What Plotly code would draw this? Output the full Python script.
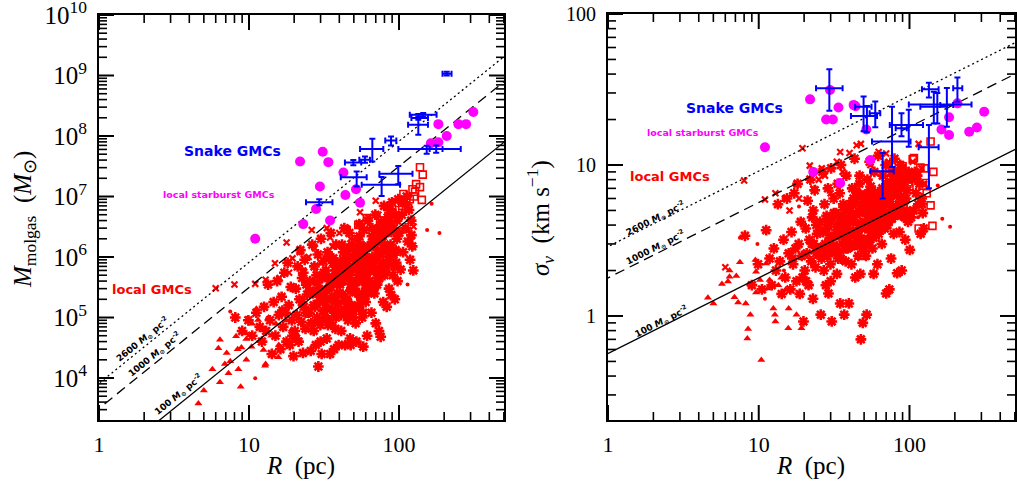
import numpy as np
import plotly.graph_objects as go

# ---------------- data ----------------
# local GMCs: asterisk symbols (R in pc, M_molgas in Msun, sigma_v in km/s)
star_R = [8.1, 9.0, 9.9, 10.5, 11.2, 11.8,
          12.2, 12.6, 13.0, 13.4, 13.8, 14.2, 14.6, 15.0, 15.4, 15.8,
          16.2, 16.5, 16.7, 16.9, 17.2, 17.5, 17.8, 18.1, 18.4, 18.7, 19.0, 19.3, 19.5, 19.8,
          20.2, 20.5, 20.8, 21.1, 21.4, 21.7, 22.0, 22.3, 22.6, 22.9, 23.2, 23.5, 23.8, 24.1, 24.4, 24.7, 20.6, 23.0,
          25.2, 25.5, 25.8, 26.1, 26.4, 26.7, 27.0, 27.3, 27.6, 27.9, 28.2, 28.5, 28.8, 29.0, 29.3, 29.6, 29.9, 30.2, 30.5, 30.8, 31.1, 31.4, 31.7, 30.0,
          32.2, 32.6, 33.0, 33.4, 33.8, 34.2, 34.7, 35.1, 35.5, 35.9, 36.4, 36.9, 37.3, 37.7, 38.1, 38.5, 38.9, 39.3, 39.6, 32.8, 33.6, 34.4, 35.3, 36.2, 37.0, 37.9, 38.7, 39.5,
          40.2, 40.7, 41.2, 41.7, 42.2, 42.7, 43.2, 43.7, 44.2, 44.7, 45.2, 45.7, 46.2, 46.7, 47.2, 47.6, 48.1, 48.6, 49.0, 49.5, 40.5, 41.5, 42.5, 43.5, 44.5, 45.5, 46.5, 47.5, 48.5, 49.8,
          50.3, 50.9, 51.4, 52.0, 52.6, 53.2, 53.8, 54.4, 55.0, 55.6, 56.2, 56.8, 57.4, 57.8, 58.5, 59.2, 59.9, 60.6, 61.3, 62.0, 50.6, 51.7, 52.9, 54.1, 55.3, 56.5, 57.7, 59.0, 60.3, 61.6,
          63.5, 64.5, 65.5, 66.5, 67.5, 68.5, 69.5, 70.5, 71.5, 72.5, 73.5, 74.5, 75.5, 76.5, 77.5, 78.5, 79.5, 64.0, 66.0, 68.0, 70.0, 72.0, 74.0, 76.0, 78.0, 80.0,
          80.8, 81.8, 82.8, 83.8, 84.8, 85.8, 86.8, 87.8, 88.8, 89.8, 90.8, 91.8, 92.8, 93.8, 94.8, 95.8, 96.8, 97.8, 98.8, 83.0, 87.0, 93.0,
          100.5, 102.5, 104.5, 106.5, 108.5, 110.5, 112.5, 114.5, 116.5, 118.5, 120.5, 122.5, 124.5, 121.0,
          22.5, 24.0, 25.5, 27.0, 28.5, 30.0, 31.5, 33.0, 34.5, 36.0, 37.5, 39.0, 40.5, 42.0, 43.5, 45.0, 46.5, 48.0, 49.5, 51.0,
          52.5, 54.0, 55.5, 57.0, 58.5, 60.0, 62.0, 64.0, 66.0, 68.0, 70.0, 72.0, 74.0, 76.0, 78.0, 80.0, 83.0, 86.0, 89.0, 92.0,
          26.0, 29.0, 32.0, 35.0, 38.0, 41.0, 44.0, 47.0, 50.0, 53.0, 56.0, 59.0, 62.5, 65.5, 69.0, 72.5, 76.5, 81.0, 85.0, 95.0,
          27.5, 33.5, 39.5, 45.5, 51.5, 57.5, 63.0, 67.0, 71.0, 75.0, 79.0, 84.0, 88.0, 97.0, 36.5, 42.5, 48.5, 54.5, 60.5, 66.5]
star_M = [1.0e5, 6.0e4, 9.0e4, 5.0e4, 1.2e5, 7.0e4,
          4.0e4, 1.5e5, 6.0e4, 3.5e5, 9.0e4, 2.5e4, 1.8e5, 5.0e4, 4.0e5, 1.1e5,
          3.0e4, 2.2e5, 1.3e5, 7.0e4, 5.5e5, 1.2e5, 4.0e4, 8.0e5, 1.6e5, 3.5e4, 3.2e5, 9.0e4, 5.0e4, 2.3e4,
          6.0e4, 3.0e5, 1.1e5, 7.0e5, 4.0e4, 2.0e5, 1.3e6, 8.5e4, 4.5e5, 2.6e4, 1.5e5, 9.0e5, 6.5e4, 3.5e5, 2.4e5, 1.2e5, 4.5e4, 5.5e5,
          1.2e5, 4.0e5, 2.8e4, 8.0e4, 1.6e6, 2.5e5, 6.0e4, 7.0e5, 1.5e5, 3.5e4, 5.0e5, 1.0e5, 1.1e6, 1.55e4, 3.0e5, 1.9e5, 7.5e4, 2.0e6, 2.5e4, 4.5e5, 1.3e5, 8.5e5, 2.2e5, 4.0e4,
          1.8e5, 6.0e5, 4.5e4, 1.2e6, 3.0e5, 9.0e4, 2.5e4, 2.5e6, 4.0e5, 1.4e5, 8.0e5, 3.0e4, 2.2e5, 6.5e4, 1.6e6, 3.5e5, 1.1e5, 5.0e5, 3.5e4, 2.8e5, 7.5e4, 1.0e6, 2.0e5, 4.5e5, 1.2e5, 7.0e5, 2.5e5, 1.7e5,
          2.5e5, 8.0e5, 6.0e4, 1.6e6, 4.0e5, 1.3e5, 3.0e6, 3.5e4, 6.0e5, 2.0e5, 1.1e6, 9.0e4, 4.5e5, 2.5e6, 4.5e4, 3.5e4, 3.0e5, 1.5e5, 4.0e4, 7.0e5, 3.5e5, 1.2e5, 9.0e5, 2.2e5, 5.0e5, 1.8e5, 1.4e6, 2.8e5, 6.5e5, 1.0e5,
          3.0e5, 1.0e6, 8.0e4, 4.0e4, 2.0e6, 5.0e5, 1.5e5, 3.5e6, 7.0e5, 2.2e5, 1.3e6, 1.0e5, 4.5e5, 3.3e4, 2.8e6, 6.0e5, 1.8e5, 9.0e5, 5.0e4, 4.0e6, 3.8e5, 1.4e5, 8.0e5, 2.5e5, 1.6e6, 4.0e5, 1.2e5, 1.1e6, 3.0e5, 6.5e5,
          4.0e5, 1.5e6, 1.2e5, 3.0e6, 7.0e5, 2.5e5, 5.0e6, 9.0e5, 3.5e5, 2.0e6, 6.0e4, 1.1e6, 4.8e4, 5.5e5, 2.5e6, 1.8e5, 7.0e6, 6.0e5, 2.2e6, 3.0e5, 8.0e4, 1.3e6, 4.5e5, 3.8e6, 8.0e5, 1.6e6,
          6.0e5, 2.5e6, 1.5e5, 4.0e6, 1.0e6, 3.0e5, 6.0e6, 1.6e6, 2.35e5, 8.0e6, 5.0e5, 3.0e6, 1.2e6, 2.0e5, 5.0e6, 8.0e5, 2.0e6, 4.0e5, 9.0e6, 1.3e6, 3.5e6, 7.0e5,
          2.5e6, 6.2e5, 5.0e6, 1.2e6, 8.0e6, 3.0e6, 1.0e7, 1.8e6, 6.0e6, 9.0e5, 4.0e6, 1.5e6, 6.0e5, 2.3e6,
          1.8e5, 1.2e5, 2.8e5, 1.6e5, 3.8e5, 2.2e5, 5.5e5, 1.4e5, 3.2e5, 2.0e5, 6.0e5, 1.7e5, 4.2e5, 2.4e5, 8.0e5, 1.9e5, 5.5e5, 3.6e5, 1.0e6, 2.6e5,
          6.5e5, 4.0e5, 1.2e6, 2.0e5, 7.5e5, 4.8e5, 1.5e6, 3.2e5, 9.0e5, 5.8e5, 1.8e6, 4.0e5, 1.1e6, 7.0e5, 2.2e6, 5.0e5, 1.4e6, 9.0e5, 2.6e6, 1.1e6,
          8.0e4, 9.0e4, 1.0e5, 8.0e4, 1.0e5, 1.1e5, 1.3e5, 1.2e5, 1.5e5, 1.6e5, 2.0e5, 2.4e5, 2.5e5, 3.0e5, 3.6e5, 4.5e5, 5.0e5, 6.5e5, 8.0e5, 1.3e6,
          2.6e5, 4.5e5, 6.5e5, 8.5e5, 1.3e6, 1.1e6, 8.0e5, 1.8e6, 2.8e6, 2.0e6, 3.2e6, 4.5e6, 3.0e6, 4.0e6, 9.5e5, 1.2e6, 1.6e6, 2.2e6, 3.5e5, 1.0e6]
star_sig = [3.4, 1.6, 2.2, 1.5, 3.7, 2.4,
            1.6, 2.8, 2.0, 5.5, 2.3, 1.4, 3.2, 1.8, 6.0, 2.6,
            1.5, 3.6, 2.4, 2.2, 6.5, 2.8, 1.7, 7.5, 3.0, 1.4, 4.2, 2.5, 1.8, 0.92,
            2.0, 3.8, 2.6, 5.8, 1.6, 3.2, 8.0, 2.3, 4.5, 1.3, 3.0, 6.8, 2.1, 4.0, 3.5, 2.7, 1.7, 5.0,
            2.8, 4.2, 1.02, 2.4, 9.0, 3.6, 2.0, 5.5, 3.0, 1.6, 4.6, 2.5, 7.0, 1.41, 3.9, 3.3, 2.2, 9.5, 0.92, 4.4, 2.9, 6.0, 3.4, 1.7,
            3.4, 4.8, 1.9, 7.5, 4.0, 2.6, 1.21, 10.0, 4.3, 3.0, 5.5, 1.02, 3.7, 2.3, 8.5, 4.1, 2.8, 5.0, 1.21, 3.9, 2.4, 6.5, 3.5, 4.6, 3.1, 5.2, 3.8, 3.3,
            3.6, 5.5, 2.2, 7.0, 4.2, 3.0, 11.0, 1.8, 4.8, 3.5, 6.5, 2.5, 4.0, 8.5, 1.9, 0.7, 3.8, 3.2, 0.9, 5.0, 4.4, 2.9, 6.0, 3.6, 4.7, 3.1, 7.5, 4.1, 5.3, 2.7,
            4.0, 6.0, 2.5, 1.02, 8.0, 4.6, 3.2, 10.5, 5.2, 3.6, 6.8, 2.8, 4.3, 1.9, 9.0, 4.9, 3.4, 5.8, 2.2, 11.5, 4.2, 3.0, 5.5, 3.9, 7.2, 4.5, 3.3, 6.3, 4.1, 5.0,
            4.3, 6.5, 3.0, 8.5, 5.0, 3.8, 10.0, 5.6, 4.0, 7.5, 1.5, 6.0, 2.4, 4.6, 8.0, 3.5, 11.0, 4.8, 7.0, 4.1, 1.41, 6.2, 4.4, 9.0, 5.3, 6.6,
            4.8, 7.2, 1.92, 8.8, 5.5, 3.6, 10.0, 6.2, 2.0, 9.5, 4.6, 7.8, 5.8, 3.2, 8.4, 5.0, 6.8, 4.2, 9.0, 5.2, 7.5, 4.5,
            2.74, 4.5, 8.0, 5.0, 9.0, 6.5, 8.5, 5.5, 7.5, 3.5, 6.0, 4.8, 3.8, 5.5,
            3.0, 2.6, 3.6, 2.9, 4.2, 3.3, 4.8, 2.9, 4.0, 3.4, 5.0, 3.1, 4.4, 3.6, 5.6, 3.3, 4.8, 4.1, 6.0, 3.8,
            5.2, 4.4, 6.2, 3.5, 5.4, 4.6, 6.6, 4.0, 5.7, 4.8, 7.0, 4.3, 6.0, 5.0, 7.4, 4.6, 6.3, 5.4, 7.8, 5.8,
            2.5, 2.7, 2.6, 2.4, 2.8, 2.9, 3.0, 2.9, 3.2, 3.1, 3.4, 3.6, 3.5, 3.8, 4.0, 4.2, 4.4, 4.7, 5.0, 6.0,
            3.7, 4.6, 5.2, 5.5, 6.4, 5.9, 5.0, 6.6, 7.4, 6.8, 7.6, 8.4, 7.0, 8.0, 5.3, 5.8, 6.2, 6.8, 3.9, 5.6]

# local GMCs: filled triangles
tri_R = [4.6, 5.0, 5.7, 6.25, 6.4, 6.4, 6.9, 7.1, 7.3, 7.5, 8.2, 8.4, 8.5, 8.8, 9.5, 9.6, 9.6,
         10.2, 11.2, 10.4, 11.5, 11.8, 12.5, 12.8, 12.9, 15.7, 14.1, 15.1, 15.8, 17.8, 10.5, 8.9, 13.5, 19.2]
tri_M = [3.8e3, 6.2e3, 1.4e4, 3.1e4, 4.3e4, 8.5e3, 1.7e4, 2.6e4, 1.2e4, 1.9e4, 4.9e4, 3.0e4, 1.4e4, 7.2e3, 5.5e4, 2.0e4, 4.4e4,
         5.1e4, 1.4e5, 3.3e4, 9.1e4, 7.1e4, 2.9e4, 1.6e4, 1.7e4, 2.2e4, 5.0e4, 7.9e4, 3.5e4, 8.9e4, 7.9e4, 3.2e4, 1.0e5, 6.3e4]
tri_sig = [1.32, 1.21, 1.63, 1.69, 2.0, 1.82, 1.33, 1.84, 1.23, 2.27, 1.21, 0.71, 0.82, 1.02, 2.35, 1.96, 1.43,
           1.73, 2.23, 0.51, 1.52, 1.73, 1.12, 1.02, 0.92, 0.83, 1.79, 1.5, 1.12, 1.02, 1.52, 1.6, 1.6, 0.83]

# local GMCs: x crosses
x_R = [6.0, 8.0, 11.0, 12.9, 14.9, 17.8, 19.5, 21.8, 26.2, 27.5, 34.7, 36.0, 40.0, 44.6, 47.6,
       62.5, 70.0, 72.8, 115, 120, 23.0, 25.0, 30.0, 18.5, 16.0, 33.0, 55.0, 85.0, 105, 125]
x_M = [3.05e5, 3.5e5, 3.6e5, 4.2e5, 7.9e5, 1.74e6, 9.5e5, 1.2e6, 2.8e6, 1.4e6, 2.1e6, 1.5e6, 2.5e6, 3.0e6, 2.0e6,
       4.5e6, 8.5e6, 5.0e6, 2.8e6, 1.8e6, 6.0e5, 1.0e6, 8.0e5, 5.5e5, 4.5e5, 3.0e6, 5.5e6, 7.0e6, 8.0e6, 3.2e6]
x_sig = [2.1, 7.9, 5.9, 6.5, 6.0, 7.5, 12.9, 9.9, 9.5, 8.5, 12.2, 9.0, 12.0, 13.5, 13.8,
         12.2, 11.9, 10.5, 13.8, 9.5, 7.0, 8.0, 6.5, 6.0, 5.0, 10.5, 10.0, 9.0, 10.5, 7.5]

# local GMCs: open squares
sq_R = [138, 144, 130, 138, 123, 107, 118, 142, 115, 61, 53.5, 44.8, 90, 105, 126, 100, 128, 112, 85, 75]
sq_M = [3.05e7, 2.3e7, 1.6e7, 1.43e7, 1.32e7, 1.1e7, 9.0e6, 8.8e6, 6.5e6, 4.4e6, 3.4e6, 2.8e6,
        5.5e6, 7.0e6, 1.0e7, 6.0e6, 1.2e7, 8.0e6, 4.8e6, 4.0e6]
sq_sig = [14.3, 9.0, 6.5, 5.4, 7.3, 11.1, 9.6, 3.95, 3.8, 6.0, 6.5, 6.5, 9.8, 10.9, 9.5, 6.9, 7.6, 8.5, 10.0, 8.0]

# local GMCs: small dots
dot_R = [154, 186, 165, 114, 11.0, 7.5, 14.7, 18.5, 9.8, 125]
dot_M = [2.8e6, 2.5e6, 7.6e6, 3.5e5, 9.9e3, 1.26e5, 2.6e4, 1.5e5, 1.0e5, 1.4e6]
dot_sig = [7.3, 3.9, 4.4, 4.5, 1.3, 3.3, 2.0, 5.3, 3.0, 3.5]

# local starburst GMCs (magenta)
sb_R = [11.0, 21.9, 23.0, 28.0, 29.7, 31.0, 33.8, 34.7, 42.6, 43.9, 51.7, 55.0, 163, 183, 183, 208, 249, 280, 313]
sb_M = [2.0e6, 3.8e7, 3.5e6, 6.2e6, 1.46e7, 5.5e7, 3.7e7, 4.0e6, 2.5e7, 1.06e7, 1.32e7, 7.9e6,
        7.6e7, 1.57e8, 7.9e7, 1.0e8, 1.57e8, 1.57e8, 2.5e8]
sb_sig = [13.1, 27.2, 9.0, 20.0, 31.4, 20.0, 24.0, 7.6, 25.0, 24.5, 17.2, 10.8,
          17.2, 20.7, 15.8, 25.6, 16.6, 17.7, 22.5]

# Snake GMCs (blue) with ranges
snake_R = [208, 145, 134.5, 134.5, 88.5, 66.4, 153, 177, 59.3, 49.6, 52.2, 98.9, 76.6, 29.4]
snake_R_lo = [195, 118, 121, 115, 81, 55, 99, 160, 54.4, 43.6, 40.9, 74, 56.4, 24]
snake_R_hi = [224, 178, 156, 156, 96, 78.6, 258, 195, 64, 56, 60.9, 123, 101.6, 36]
snake_M = [1.07e9, 2.24e8, 1.98e8, 1.53e8, 8.4e7, 6.07e7, 6.1e7, 6.1e7, 4.04e7, 3.65e7, 2.09e7, 2.37e7, 1.56e7, 8.07e6]
snake_M_lo = [1.0e9, 2.1e8, 1.85e8, 1.05e8, 7.0e7, 3.8e7, 5.1e7, 5.3e7, 3.6e7, 3.3e7, 1.46e7, 1.6e7, 1.02e7, 7.2e6]
snake_M_hi = [1.15e9, 2.4e8, 2.1e8, 2.3e8, 9.8e7, 9.0e7, 6.9e7, 7.0e7, 4.6e7, 4.0e7, 2.6e7, 3.2e7, 2.1e7, 9.0e6]
snake_sig = [32.2, 24.3, 31.7, 13.1, 17.5, 9.1, 25.2, 25.0, 22.0, 24.3, 21.1, 18.4, 14.3, 32.2]
snake_sig_lo = [26.2, 18.8, 28.0, 7.0, 15.5, 6.0, 18.8, 17.9, 17.8, 16.7, 16.5, 13.2, 9.7, 22.9]
snake_sig_hi = [38.0, 30.6, 35.0, 18.4, 22.0, 12.0, 30.0, 32.3, 26.3, 28.4, 24.6, 23.2, 24.3, 43.0]

# constant surface-density reference lines (Msun pc^-2)
surf_dens = [100, 1000, 2600]
surf_dash = ["solid", "10px,6px", "2px,3px"]
surf_labels = ["100", "1000", "2600"]
SIG_COEF = 0.0565          # sigma_v = SIG_COEF * sqrt(Sigma * R)
line_R = [0.9, 600.0]

# axis ranges (log10 units)
x_range = [0, 2.7]
yM_range = [3.306, 10]
ySig_range = [-0.689, 2]

# ---------------- figure ----------------
W, H = 1017, 487
def px(x):
    return x / W
def py(y):
    return 1 - y / H

# plot-area boxes in pixels (left, right, top, bottom)
box_left = (99, 504, 15, 420)
box_right = (608, 1015, 14, 420)

RED, BLUE, MAG = "#ff0000", "#0000ff", "#ff00ff"
fig = go.Figure()

panels = [("x", "y", star_M, tri_M, x_M, sq_M, dot_M, sb_M, snake_M, snake_M_lo, snake_M_hi),
          ("x2", "y2", star_sig, tri_sig, x_sig, sq_sig, dot_sig, sb_sig, snake_sig, snake_sig_lo, snake_sig_hi)]

for i, (xa, ya, sY, tY, xY, qY, dY, bY, kY, kLo, kHi) in enumerate(panels):
    common = dict(xaxis=xa, yaxis=ya, mode="markers", showlegend=False, hoverinfo="skip")
    fig.add_trace(go.Scatter(x=star_R, y=sY, marker=dict(symbol="asterisk-open", size=9, color=RED,
                  line=dict(color=RED, width=2.6)), **common))
    fig.add_trace(go.Scatter(x=tri_R, y=tY, marker=dict(symbol="triangle-up", size=7, color=RED,
                  line=dict(width=0)), **common))
    fig.add_trace(go.Scatter(x=x_R, y=xY, marker=dict(symbol="x-thin-open", size=6, color=RED,
                  line=dict(color=RED, width=2.2)), **common))
    fig.add_trace(go.Scatter(x=sq_R, y=qY, marker=dict(symbol="square-open", size=7, color=RED,
                  line=dict(color=RED, width=1.6)), **common))
    fig.add_trace(go.Scatter(x=dot_R, y=dY, marker=dict(symbol="circle", size=4, color=RED,
                  line=dict(width=0)), **common))
    # reference lines
    for s, d in zip(surf_dens, surf_dash):
        if i == 0:
            yl = [s * np.pi * r ** 2 for r in line_R]
        else:
            yl = [SIG_COEF * np.sqrt(s * r) for r in line_R]
        fig.add_trace(go.Scatter(x=line_R, y=yl, mode="lines", xaxis=xa, yaxis=ya,
                                 line=dict(color="black", width=1.3, dash=d),
                                 showlegend=False, hoverinfo="skip"))
    # starburst
    fig.add_trace(go.Scatter(x=sb_R, y=bY, marker=dict(symbol="circle", size=10, color=MAG,
                  line=dict(width=0)), **common))
    # snake
    fig.add_trace(go.Scatter(
        x=snake_R, y=kY, marker=dict(symbol="circle", size=2, color=BLUE),
        error_x=dict(type="data", symmetric=False,
                     array=[h - r for h, r in zip(snake_R_hi, snake_R)],
                     arrayminus=[r - l for r, l in zip(snake_R, snake_R_lo)],
                     color=BLUE, thickness=2, width=3),
        error_y=dict(type="data", symmetric=False,
                     array=[h - v for h, v in zip(kHi, kY)],
                     arrayminus=[v - l for v, l in zip(kY, kLo)],
                     color=BLUE, thickness=2, width=3),
        **common))

# inside tick marks (major + minor) on all four sides, drawn as line traces on the axes' scales
def tick_values(rng):
    lo, hi = rng
    major, minor = [], []
    for e in range(int(np.floor(lo)) - 1, int(np.ceil(hi)) + 1):
        for k in range(1, 10):
            v = k * 10.0 ** e
            if lo - 1e-9 <= np.log10(v) <= hi + 1e-9:
                (major if k == 1 else minor).append(v)
    return major, minor

def add_ticks(xa, ya, xr, yr, box):
    wpx = box[1] - box[0]
    hpx = box[3] - box[2]
    xt, yt = tick_values(xr), tick_values(yr)
    for idx, (ln, wd) in enumerate(((15, 2.0), (8, 1.6))):
        tx, ty = [], []
        dly = ln / hpx * (yr[1] - yr[0])
        for v in xt[idx]:
            for a, b in ((yr[0], yr[0] + dly), (yr[1], yr[1] - dly)):
                tx += [v, v, None]
                ty += [10 ** a, 10 ** b, None]
        dlx = ln / wpx * (xr[1] - xr[0])
        for v in yt[idx]:
            for a, b in ((xr[0], xr[0] + dlx), (xr[1], xr[1] - dlx)):
                tx += [10 ** a, 10 ** b, None]
                ty += [v, v, None]
        fig.add_trace(go.Scatter(x=tx, y=ty, mode="lines", xaxis=xa, yaxis=ya,
                                 line=dict(color="black", width=wd),
                                 connectgaps=False, showlegend=False, hoverinfo="skip"))

add_ticks("x", "y", x_range, yM_range, box_left)
add_ticks("x2", "y2", x_range, ySig_range, box_right)

axis_common = dict(type="log", showline=True, linewidth=2, linecolor="black", mirror=True,
                   ticks="", showgrid=False, zeroline=False, automargin=False,
                   ticklabeloverflow="allow", tickmode="linear", tick0=0, dtick=1)
xfont = dict(family="Liberation Serif", size=22, color="black")
yfont = dict(family="Liberation Serif", size=20, color="black")

fig.update_layout(
    width=W, height=H, margin=dict(l=0, r=0, t=0, b=0),
    paper_bgcolor="white", plot_bgcolor="white", showlegend=False,
    xaxis=dict(domain=[px(box_left[0]), px(box_left[1])], range=x_range, anchor="y",
               tickfont=xfont, ticklabelstandoff=4, **axis_common),
    yaxis=dict(domain=[py(box_left[3]), py(box_left[2])], range=yM_range, anchor="x",
               tickfont=yfont, ticklabelstandoff=6, exponentformat="power", **axis_common),
    xaxis2=dict(domain=[px(box_right[0]), px(box_right[1])], range=x_range, anchor="y2",
                tickfont=xfont, ticklabelstandoff=4, **axis_common),
    yaxis2=dict(domain=[py(box_right[3]), py(box_right[2])], range=ySig_range, anchor="x2",
                tickfont=yfont, ticklabelstandoff=6, **axis_common),
)

ann = []
def add_text(x, y, text, size, color="black", angle=0, family="DejaVu Sans"):
    ann.append(dict(x=px(x), y=py(y), xref="paper", yref="paper", text=text, showarrow=False,
                    textangle=angle, xanchor="center", yanchor="middle",
                    font=dict(family=family, size=size, color=color)))

# group labels
for (sx, sy), (bx, by), (lx, ly) in [((232, 151), (219, 194), (152, 289)),
                                     ((734, 108), (703, 132), (670, 176))]:
    add_text(sx, sy, "<b>Snake GMCs</b>", 14, BLUE)
    add_text(bx, by, "<b>local starburst GMCs</b>", 9.5, MAG)
    add_text(lx, ly, "<b>local GMCs</b>", 13, RED)

# line labels
lab_pos_left = [(178, 394), (154, 354), (142, 339)]
lab_pos_right = [(661, 321), (655, 247), (655, 218)]
for lab, (lx, ly) in zip(surf_labels, lab_pos_left):
    add_text(lx, ly, "<b>%s <i>M</i><sub>⊙</sub> pc<sup>-2</sup></b>" % lab, 9, angle=-38.9)
for lab, (lx, ly) in zip(surf_labels, lab_pos_right):
    add_text(lx, ly, "<b>%s <i>M</i><sub>⊙</sub> pc<sup>-2</sup></b>" % lab, 9, angle=-26.7)

# axis titles
serif = "Liberation Serif"
add_text(300, 466, "<i>R</i>  (pc)", 25, family=serif)
add_text(810, 466, "<i>R</i>  (pc)", 25, family=serif)
add_text(24, 220, "<i>M</i><sub>molgas</sub>  (<i>M</i><sub>⊙</sub>)", 25, angle=-90, family=serif)
add_text(540, 218, "<i>σ</i><sub><i>v</i></sub>  (km s<sup>−1</sup>)", 25, angle=-90, family=serif)

fig.update_layout(annotations=ann)
fig.write_html("out.html", config={"displayModeBar": False},
               post_script="document.body.style.margin='0px';document.body.style.overflow='hidden';")
